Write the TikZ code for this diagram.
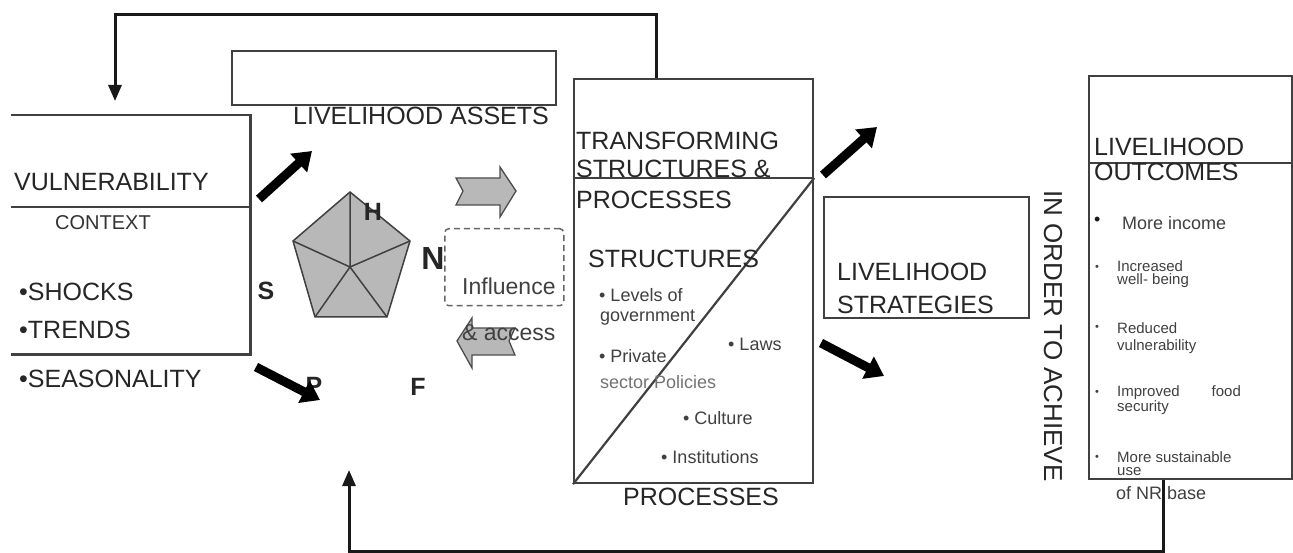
\documentclass[tikz,border=0pt]{standalone}
\usepackage{fontspec}
\setmainfont{Liberation Sans}
\usetikzlibrary{arrows.meta}
\begin{document}
\begin{tikzpicture}[x=1pt,y=-1pt,
  boxline/.style={draw=black!75, line width=2.2pt},
  boxnode/.style={boxline, anchor=north west, inner sep=0pt},
  plainnode/.style={anchor=north west, inner sep=0pt},
  bigtxt/.style={font=\fontsize{25}{28}\selectfont, inner sep=0pt, anchor=west, text=black!85},
  midtxt/.style={font=\fontsize{20}{22}\selectfont, inner sep=0pt, anchor=west, text=black!80},
  smalltxt/.style={font=\fontsize{18}{20}\selectfont, inner sep=0pt, anchor=west, text=black!75},
  tinytxt/.style={font=\fontsize{15}{14}\selectfont, inner sep=0pt, anchor=west, text=black!75},
  fatarrow/.style={line width=9pt, -{Triangle[length=18pt,width=24pt]}},
  feedback/.style={line width=3pt, draw=black!90, -{Triangle[length=16pt,width=13pt]}},
  grayarrow/.style={fill=black!28, draw=black!70, line width=1.3pt, line join=miter},
  lett/.style={font=\bfseries\fontsize{25}{28}\selectfont, inner sep=0pt, text=black!85}
]
\useasboundingbox (0,0) rectangle (1293,553);
\fill[white] (0,0) rectangle (1293,553);

% ---------- boxes ----------
\node[plainnode, minimum width=239pt, minimum height=239pt] (vul) at (11,115) {};
\draw[boxline] (vul.north west) -- (vul.north east) -- (vul.south east) -- (vul.south west);
\draw[boxline] ([yshift=-92pt]vul.north west) -- ([yshift=-92pt]vul.north east);

\node[boxnode, minimum width=324pt, minimum height=54pt] (assetbox) at (231,50) {};
\node[boxnode, minimum width=239pt, minimum height=404pt] (tsp) at (573,78) {};
\draw[boxline] ([yshift=-100pt]tsp.north west) -- ([yshift=-100pt]tsp.north east);
\draw[boxline] (tsp.south west) -- ([yshift=-100pt]tsp.north east);

\node[boxnode, minimum width=205pt, minimum height=121pt] (strat) at (823,196) {};
\node[boxnode, minimum width=203pt, minimum height=403pt] (out) at (1088,75) {};
\draw[boxline] ([yshift=-88pt]out.north west) -- ([yshift=-88pt]out.north east);

\node[plainnode, draw=black!60, dashed, dash pattern=on 6pt off 4pt, line width=1.5pt,
      rounded corners=4pt, minimum width=119pt, minimum height=77pt] (infl) at (444,228) {};

% ---------- vulnerability texts ----------
\node[bigtxt] (tvul) at (14,182) {VULNERABILITY};
\node[midtxt] (tcon) at (55,223) {CONTEXT};
\node[bigtxt] (tsho) at (19,292) {•SHOCKS};
\node[bigtxt] (ttre) at (19,330) {•TRENDS};
\node[bigtxt] (tsea) at (19,379) {•SEASONALITY};

\node[bigtxt, anchor=center] (tassets) at (421,116) {LIVELIHOOD ASSETS};

% ---------- pentagon ----------
\coordinate (p1) at (350,192);
\coordinate (p2) at (410,241);
\coordinate (p3) at (387,317);
\coordinate (p4) at (315,317);
\coordinate (p5) at (293,241);
\coordinate (pc) at (350,267);
\filldraw[fill=black!28, draw=black!75, line width=1.5pt, line join=round]
  (p1) -- (p2) -- (p3) -- (p4) -- (p5) -- cycle;
\draw[black!75, line width=1.5pt] (pc) -- (p1) (pc) -- (p2) (pc) -- (p3) (pc) -- (p4) (pc) -- (p5);

\node[lett, font=\bfseries\fontsize{25}{28}\selectfont] (lH) at (373,212) {H};
\node[lett, font=\bfseries\fontsize{32}{34}\selectfont] (lN) at (433,258) {N};
\node[lett] (lS) at (266,291) {S};
\node[lett] (lP) at (314,386) {P};
\node[lett] (lF) at (418,387) {F};

% ---------- gray block arrows ----------
\filldraw[grayarrow] (456,178) -- (500,178) -- (500,167) -- (516,191) -- (500,217)
  -- (500,205) -- (456,205) -- (463,191) -- cycle;
\filldraw[grayarrow] (457,341) -- (472,318) -- (472,328) -- (515,328) -- (509,341)
  -- (515,355) -- (472,355) -- (472,368) -- cycle;

\node[bigtxt, font=\fontsize{23}{26}\selectfont, text=black!75] (tinf) at (462,286) {Influence};
\node[bigtxt, font=\fontsize{23}{26}\selectfont, text=black!75] (tacc) at (462,333) {\& access};

% ---------- transforming texts ----------
\node[bigtxt] (tt1) at (576,141) {TRANSFORMING};
\node[bigtxt] (tt2) at (576,169) {STRUCTURES \&};
\node[bigtxt] (tt3) at (576,200) {PROCESSES};
\node[bigtxt] (tstr) at (588,259) {STRUCTURES};
\node[smalltxt] (ts1) at (599,295) {• Levels of};
\node[smalltxt] (ts2) at (600,318) {government};
\node[smalltxt] (ts3) at (599,356) {• Private};
\node[smalltxt, text=black!55] (ts4) at (600,382) {sector Policies};
\node[smalltxt] (ts5) at (728,344) {• Laws};
\node[smalltxt] (ts6) at (683,418) {• Culture};
\node[smalltxt] (ts7) at (661,457) {• Institutions};
\node[bigtxt] (tproc) at (623,497) {PROCESSES};

% ---------- strategies ----------
\node[bigtxt] (tls1) at (837,272) {LIVELIHOOD};
\node[bigtxt] (tls2) at (837,305) {STRATEGIES};

\node[bigtxt, anchor=center, rotate=-90, font=\fontsize{26}{28}\selectfont] (tach) at (1053,336) {IN ORDER TO ACHIEVE};

% ---------- outcomes ----------
\node[bigtxt] (to1) at (1094,147) {LIVELIHOOD};
\node[bigtxt] (to2) at (1094,172) {OUTCOMES};
\node[smalltxt, text=black!90] (ob1) at (1094,221) {•};
\node[smalltxt] (o1) at (1122,223) {More income};
\node[tinytxt, font=\fontsize{11}{12}\selectfont] (ob2) at (1095,268) {•};
\node[tinytxt] (o2a) at (1117,266) {Increased};
\node[tinytxt] (o2b) at (1117,281) {well- being};
\node[tinytxt, font=\fontsize{11}{12}\selectfont] (ob3) at (1095,328) {•};
\node[tinytxt] (o3a) at (1117,328) {Reduced};
\node[tinytxt] (o3b) at (1117,347) {vulnerability};
\node[tinytxt, font=\fontsize{11}{12}\selectfont] (ob4) at (1095,393) {•};
\node[tinytxt] (o4a) at (1117,393) {Improved\hspace{32pt}food};
\node[tinytxt] (o4b) at (1117,408) {security};
\node[tinytxt, font=\fontsize{11}{12}\selectfont] (ob5) at (1095,458) {•};
\node[tinytxt] (o5a) at (1117,457) {More sustainable};
\node[tinytxt] (o5b) at (1117,472) {use};
\node[smalltxt] (o5c) at (1116,493) {of NR base};

% ---------- black fat arrows ----------
\coordinate (a1s) at (259,199); \coordinate (a1e) at (312,151);
\coordinate (a2s) at (256,367); \coordinate (a2e) at (320,400);
\coordinate (a3s) at (823,175); \coordinate (a3e) at (877,127);
\coordinate (a4s) at (821,343); \coordinate (a4e) at (884,376);
\draw[fatarrow] (a1s) -- (a1e);
\draw[fatarrow] (a2s) -- (a2e);
\draw[fatarrow] (a3s) -- (a3e);
\draw[fatarrow] (a4s) -- (a4e);

% ---------- feedback loops ----------
\coordinate (fbTop) at (115,101);
\draw[feedback] ([xshift=83pt]tsp.north west) -- (656,15) -- (115,15) -- (fbTop);
\coordinate (fbBot) at (349,470);
\draw[feedback] ([xshift=75pt]out.south west) -- (1163,551) -- (349,551) -- (fbBot);
\end{tikzpicture}
\end{document}
